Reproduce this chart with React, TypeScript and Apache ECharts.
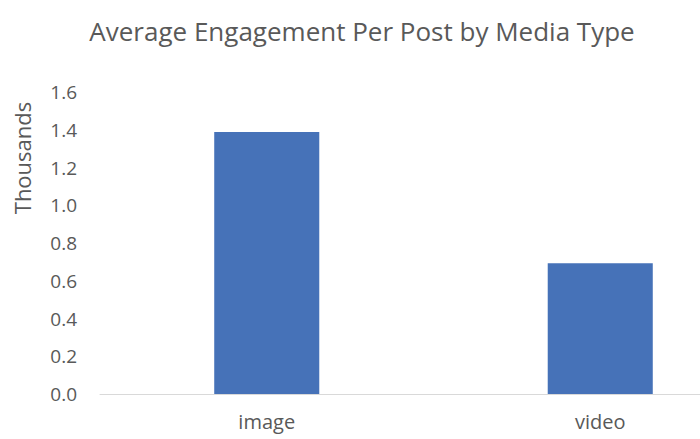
import React, { useEffect, useRef } from "react";
import * as echarts from "echarts";

const titleText = "Average Engagement Per Post by Media Type";
const categories = ["image", "video"];
const values = [1.388, 0.693];
const yAxisName = "Thousands";

export default function App() {
  const ref = useRef<HTMLDivElement>(null);
  useEffect(() => {
    if (!ref.current) return;
    const chart = echarts.init(ref.current, null, { renderer: "svg" });
    const font = "'Open Sans', Lato, sans-serif";
    chart.setOption({
      animation: false,
      textStyle: { fontFamily: font },
      title: {
        text: titleText,
        left: 357,
        textAlign: "center",
        top: 13,
        textStyle: { fontFamily: font, fontSize: 26, fontWeight: "normal", color: "#595959" },
      },
      grid: { left: 100, right: 0, top: 92, bottom: 45, containLabel: false },
      xAxis: {
        type: "category",
        data: categories,
        axisTick: { show: false },
        axisLine: { lineStyle: { color: "#d9d9d9", width: 1 } },
        axisLabel: { color: "#595959", fontSize: 20, margin: 17, fontFamily: font },
      },
      yAxis: {
        type: "value",
        min: 0,
        max: 1.6,
        interval: 0.2,
        splitLine: { show: false },
        axisLine: { show: false },
        axisTick: { show: false },
        axisLabel: {
          color: "#595959",
          fontSize: 19,
          margin: 23,
          fontFamily: font,
          formatter: (v: number) => v.toFixed(1),
        },
      },
      graphic: [
        {
          type: "text",
          x: 22,
          y: 158,
          rotation: Math.PI / 2,
          style: {
            text: yAxisName,
            fill: "#595959",
            fontSize: 22,
            fontFamily: font,
            textAlign: "center",
            textVerticalAlign: "middle",
          },
        },
      ],
      series: [
        {
          type: "bar",
          data: values,
          barWidth: "31.5%",
          itemStyle: { color: "#4672b8" },
        },
      ],
    });
    return () => chart.dispose();
  }, []);
  return (
    <div style={{ width: 700, height: 439, position: "absolute", left: 0, top: 0, overflow: "hidden" }}>
      <div ref={ref} style={{ width: 767, height: 439 }} />
    </div>
  );
}
